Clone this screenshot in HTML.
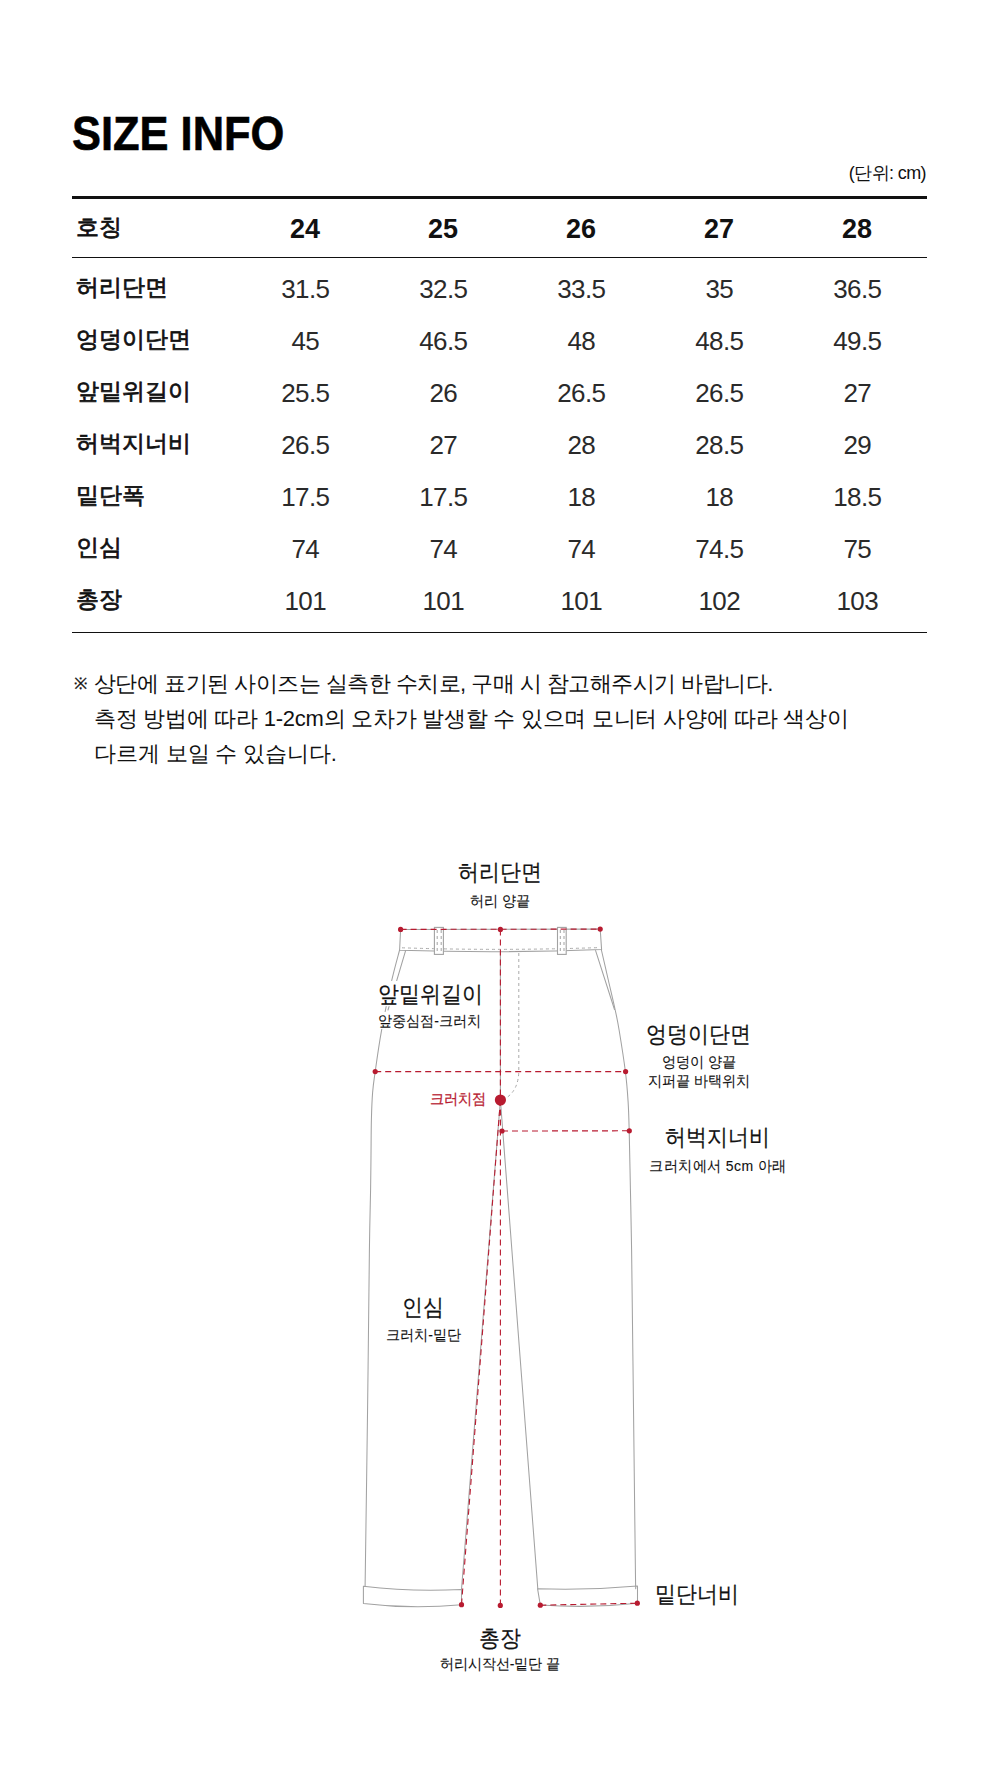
<!DOCTYPE html>
<html>
<head>
<meta charset="utf-8">
<style>
html,body{margin:0;padding:0;background:#fff;}
body{width:1000px;height:1789px;position:relative;overflow:hidden;font-family:"Liberation Sans",sans-serif;color:#111;}
.a{position:absolute;white-space:nowrap;line-height:1;}
.title{left:72px;top:110px;font-size:48px;font-weight:bold;letter-spacing:0px;color:#000;transform:scaleX(0.905);transform-origin:0 0;-webkit-text-stroke:0.6px #000;}
.unit{right:74px;top:164px;font-size:18px;letter-spacing:-0.6px;}
.hr{position:absolute;left:72px;width:855px;background:#111;}
.lab{left:76px;font-size:23px;font-weight:normal;-webkit-text-stroke:0.75px #111;}
.num{color:#2a2a2a;font-size:26px;width:138px;text-align:center;letter-spacing:-0.6px;text-indent:0.6px;}
.hnum{color:#111;font-size:27px;width:138px;text-align:center;font-weight:bold;}
.note{left:75px;font-size:22px;}
.dl{font-size:21px;text-align:center;transform:scaleY(1.1);transform-origin:50% 0;-webkit-text-stroke:0.2px #111;}
.ds{font-size:14px;text-align:center;transform:scaleY(1.06);transform-origin:50% 0;-webkit-text-stroke:0.1px #111;}
.bg span{background:#fff;padding:0 2px;}
.ls span{letter-spacing:0.45px;}
.red{color:#b81b30;-webkit-text-stroke:0.25px #b81b30;}
</style>
</head>
<body>
<div class="a title">SIZE INFO</div>
<div class="a unit">(단위: cm)</div>
<div class="hr" style="top:196px;height:3px;"></div>
<div class="hr" style="top:257px;height:1px;"></div>
<div class="hr" style="top:632px;height:1px;"></div>

<!-- header row -->
<div class="a lab" style="top:216px">호칭</div>
<div class="a hnum" style="left:236px;top:216px">24</div>
<div class="a hnum" style="left:374px;top:216px">25</div>
<div class="a hnum" style="left:512px;top:216px">26</div>
<div class="a hnum" style="left:650px;top:216px">27</div>
<div class="a hnum" style="left:788px;top:216px">28</div>


<!--ROWS-->
<div class="a lab" style="top:276px">허리단면</div>
<div class="a num" style="left:236px;top:276px">31.5</div>
<div class="a num" style="left:374px;top:276px">32.5</div>
<div class="a num" style="left:512px;top:276px">33.5</div>
<div class="a num" style="left:650px;top:276px">35</div>
<div class="a num" style="left:788px;top:276px">36.5</div>
<div class="a lab" style="top:328px">엉덩이단면</div>
<div class="a num" style="left:236px;top:328px">45</div>
<div class="a num" style="left:374px;top:328px">46.5</div>
<div class="a num" style="left:512px;top:328px">48</div>
<div class="a num" style="left:650px;top:328px">48.5</div>
<div class="a num" style="left:788px;top:328px">49.5</div>
<div class="a lab" style="top:380px">앞밑위길이</div>
<div class="a num" style="left:236px;top:380px">25.5</div>
<div class="a num" style="left:374px;top:380px">26</div>
<div class="a num" style="left:512px;top:380px">26.5</div>
<div class="a num" style="left:650px;top:380px">26.5</div>
<div class="a num" style="left:788px;top:380px">27</div>
<div class="a lab" style="top:432px">허벅지너비</div>
<div class="a num" style="left:236px;top:432px">26.5</div>
<div class="a num" style="left:374px;top:432px">27</div>
<div class="a num" style="left:512px;top:432px">28</div>
<div class="a num" style="left:650px;top:432px">28.5</div>
<div class="a num" style="left:788px;top:432px">29</div>
<div class="a lab" style="top:484px">밑단폭</div>
<div class="a num" style="left:236px;top:484px">17.5</div>
<div class="a num" style="left:374px;top:484px">17.5</div>
<div class="a num" style="left:512px;top:484px">18</div>
<div class="a num" style="left:650px;top:484px">18</div>
<div class="a num" style="left:788px;top:484px">18.5</div>
<div class="a lab" style="top:536px">인심</div>
<div class="a num" style="left:236px;top:536px">74</div>
<div class="a num" style="left:374px;top:536px">74</div>
<div class="a num" style="left:512px;top:536px">74</div>
<div class="a num" style="left:650px;top:536px">74.5</div>
<div class="a num" style="left:788px;top:536px">75</div>
<div class="a lab" style="top:588px">총장</div>
<div class="a num" style="left:236px;top:588px">101</div>
<div class="a num" style="left:374px;top:588px">101</div>
<div class="a num" style="left:512px;top:588px">101</div>
<div class="a num" style="left:650px;top:588px">102</div>
<div class="a num" style="left:788px;top:588px">103</div>
<!--/ROWS-->

<!--NOTE-->
<div class="a" style="top:676px;left:74px;font-size:16px;-webkit-text-stroke:0.3px #111">※</div>
<div class="a note" style="top:673px;left:94px;letter-spacing:-0.52px">상단에 표기된 사이즈는 실측한 수치로, 구매 시 참고해주시기 바랍니다.</div>
<div class="a note" style="top:708px;left:94px;letter-spacing:-0.26px">측정 방법에 따라 1-2cm의 오차가 발생할 수 있으며 모니터 사양에 따라 색상이</div>
<div class="a note" style="top:743px;left:94px;letter-spacing:-0.12px">다르게 보일 수 있습니다.</div>
<!--/NOTE-->

<!--DIAGRAM-->
<svg class="diag" width="1000" height="1789" viewBox="0 0 1000 1789" style="position:absolute;left:0;top:0">
<g fill="none" stroke="#a2a2a2" stroke-width="1.05" stroke-linejoin="round" stroke-linecap="round">
<path d="M399.60,950.00 C398.25,955.23 394.55,967.77 391.50,981.40 C388.45,995.03 384.02,1016.77 381.30,1031.80 C378.58,1046.83 376.65,1061.47 375.20,1071.60 C373.75,1081.73 373.23,1084.63 372.60,1092.60 C371.97,1100.57 371.67,1108.97 371.40,1119.40 C371.13,1129.83 371.13,1143.60 371.00,1155.20 C370.87,1166.80 370.87,1173.20 370.60,1189.00 C370.33,1204.80 369.90,1213.67 369.40,1250.00 C368.90,1286.33 368.32,1350.95 367.60,1407.00 C366.88,1463.05 365.52,1556.42 365.10,1586.30"/>
<path d="M601.40,950.00 C602.55,955.00 606.00,970.00 608.30,980.00 C610.60,990.00 613.40,1001.67 615.20,1010.00 C617.00,1018.33 617.40,1019.73 619.10,1030.00 C620.80,1040.27 623.90,1059.67 625.40,1071.60 C626.90,1083.53 627.47,1091.70 628.10,1101.60 C628.73,1111.50 628.82,1116.43 629.20,1131.00 C629.58,1145.57 630.00,1169.17 630.40,1189.00 C630.80,1208.83 631.10,1214.83 631.60,1250.00 C632.10,1285.17 632.77,1346.67 633.40,1400.00 C634.03,1453.33 635.00,1538.95 635.40,1570.00 C635.80,1601.05 635.73,1583.58 635.80,1586.30"/>
<path d="M405.6,950.6 L388,1010"/>
<path d="M595.6,950.6 L614.5,1009.5"/>
<path d="M500.4,1100 L461.5,1589.4"/>
<path d="M500.4,1100 L537.8,1588.8"/>
<path d="M500.4,951.8 L500.4,1100"/>
<path d="M400.6,929.4 L600.2,929.1 L601.6,949.6 Q500,953.4 399.6,950.2 Z"/>
<path d="M363.4,1586.3 Q412,1592 461.5,1589.4 L461.5,1604.7 Q412,1609.5 363.4,1603.5 Z"/>
<path d="M537.6,1588.8 Q588,1590.5 637.5,1586 L637.5,1603.2 Q590,1608.5 540.3,1605 Z"/>
</g>
<g fill="none" stroke="#aaa" stroke-width="1" stroke-dasharray="3 3">
<path d="M402,947.8 Q500,951 599,947.6"/>
<path d="M518.8,953 L518.8,1070 Q518.8,1090 506,1098"/>
</g>
<rect x="434.4" y="927.4" width="9.0" height="27" fill="#fff" stroke="#a2a2a2" stroke-width="1.1"/>
<path d="M437.2,930 L437.2,952 M441.2,930 L441.2,952" stroke="#999" stroke-width="0.9" stroke-dasharray="3 3" fill="none"/>
<rect x="557.5" y="927.4" width="8.700000000000045" height="27" fill="#fff" stroke="#a2a2a2" stroke-width="1.1"/>
<path d="M560.3,930 L560.3,952 M564.0,930 L564.0,952" stroke="#999" stroke-width="0.9" stroke-dasharray="3 3" fill="none"/>
<g fill="none" stroke="#b81b30" stroke-width="1.1" stroke-dasharray="6 4">
<path d="M400.6,929.4 L600.2,929.1"/>
<path d="M500.4,929.4 L500.4,1605.4"/>
<path d="M375.2,1071.6 L625.6,1071.6"/>
<path d="M502,1131 L629.3,1130.8"/>
<path d="M500.4,1100 L461.5,1604.7"/>
<path d="M540.3,1605.2 L637.3,1603.2"/>
</g>
<g fill="#b81b30">
<circle cx="400.6" cy="929.4" r="2.6"/>
<circle cx="500.4" cy="929.4" r="2.6"/>
<circle cx="600.2" cy="929.1" r="2.6"/>
<circle cx="375.2" cy="1071.6" r="2.6"/>
<circle cx="625.6" cy="1071.6" r="2.6"/>
<circle cx="502" cy="1131" r="2.6"/>
<circle cx="629.3" cy="1130.8" r="2.6"/>
<circle cx="461.5" cy="1604.7" r="2.6"/>
<circle cx="500.3" cy="1605.4" r="2.6"/>
<circle cx="540.3" cy="1605.2" r="2.6"/>
<circle cx="637.3" cy="1603.2" r="2.6"/>
<circle cx="500.4" cy="1100" r="5.6"/>
</g>
</svg>
<div class="a dl" style="left:349.8px;width:300px;top:860px;"><span>허리단면</span></div>
<div class="a ds" style="left:350.2px;width:300px;top:893px;"><span>허리 양끝</span></div>
<div class="a dl bg" style="left:280.5px;width:300px;top:982px;"><span>앞밑위길이</span></div>
<div class="a ds bg" style="left:279.5px;width:300px;top:1013px;"><span>앞중심점-크러치</span></div>
<div class="a dl" style="left:548.5px;width:300px;top:1022px;"><span>엉덩이단면</span></div>
<div class="a ds" style="left:549.3px;width:300px;top:1054px;"><span>엉덩이 양끝</span></div>
<div class="a ds" style="left:548.9px;width:300px;top:1073px;"><span>지퍼끝 바택위치</span></div>
<div class="a ds red" style="left:307.7px;width:300px;top:1091px;"><span>크러치점</span></div>
<div class="a dl" style="left:567.7px;width:300px;top:1125px;"><span>허벅지너비</span></div>
<div class="a ds ls" style="left:568px;width:300px;top:1158px;"><span>크러치에서 5cm 아래</span></div>
<div class="a dl" style="left:273.3px;width:300px;top:1295px;"><span>인심</span></div>
<div class="a ds" style="left:273.7px;width:300px;top:1327px;"><span>크러치-밑단</span></div>
<div class="a dl" style="left:547px;width:300px;top:1582px;"><span>밑단너비</span></div>
<div class="a dl" style="left:350px;width:300px;top:1626px;"><span>총장</span></div>
<div class="a ds" style="left:350px;width:300px;top:1656px;"><span>허리시작선-밑단 끝</span></div>
<!--/DIAGRAM-->
</body>
</html>
